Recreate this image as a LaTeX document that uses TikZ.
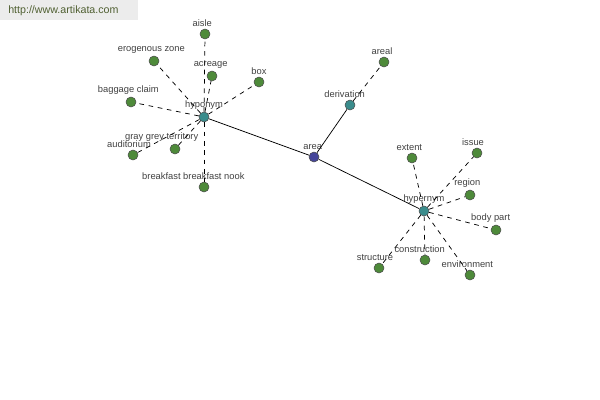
\documentclass[tikz,border=0pt]{standalone}
\usepackage{fontspec}
\setmainfont{Liberation Sans}
\usepackage{tikz}

\definecolor{leafgreen}{RGB}{78,138,58}
\definecolor{relteal}{RGB}{58,140,140}
\definecolor{rootblue}{RGB}{70,70,154}
\definecolor{labelgray}{RGB}{64,64,64}
\definecolor{markgray}{RGB}{236,236,236}
\definecolor{markolive}{RGB}{80,96,50}

\tikzset{
	word/.style={circle,draw=black!70,line width=0.4pt,minimum size=7.5pt,inner sep=0pt},
	leaf/.style={word,fill=leafgreen},
	rel/.style={word,fill=relteal},
	root/.style={word,fill=rootblue},
	every label/.style={text=labelgray,font=\fontsize{7}{8}\selectfont,inner sep=0.5pt},
	link/.style={draw=black,line width=0.55pt},
	sub/.style={draw=black,line width=0.55pt,dash pattern=on 3.5pt off 3.5pt}
}

\begin{document}
\begin{tikzpicture}[x=0.75pt,y=-0.75pt]
	\useasboundingbox (0,0) rectangle (600,400);
	\fill[markgray] (0,0) rectangle (138,20);
	\node[anchor=west,text=markolive,font=\fontsize{8}{9}\selectfont,inner sep=0pt] (mark) at (8,11) {http://www.artikata.com};

	\node[root,label={[label distance=1pt,xshift=-1pt]above:area}] (area) at (314,157) {};
	\node[rel,label={[label distance=1pt]above:hyponym}] (hypo) at (204,117) {};
	\node[rel,label={[label distance=1pt,xshift=-4pt]above:derivation}] (deriv) at (350,105) {};
	\node[rel,label={[label distance=1pt]above:hypernym}] (hyper) at (424,211) {};

	\node[leaf,label={[label distance=1pt,xshift=-2pt]above:aisle}] (aisle) at (205,34) {};
	\node[leaf,label={[label distance=1pt,xshift=-2pt]above:erogenous zone}] (erog) at (154,61) {};
	\node[leaf,label={[label distance=1pt,xshift=-1pt]above:acreage}] (acre) at (212,76) {};
	\node[leaf,label={[label distance=1pt]above:box}] (box) at (259,82) {};
	\node[leaf,label={[label distance=1pt,xshift=-2pt]above:baggage claim}] (bagg) at (131,102) {};
	\node[leaf,label={[label distance=1pt,xshift=-3pt]above:auditorium}] (audi) at (133,155) {};
	\node[leaf,label={[label distance=1pt,xshift=-10pt]above:gray grey territory}] (gray) at (175,149) {};
	\node[leaf,label={[label distance=1pt,xshift=-8pt]above:breakfast breakfast nook}] (break) at (204,187) {};

	\node[leaf,label={[label distance=1pt,xshift=-1.5pt]above:areal}] (areal) at (384,62) {};

	\node[leaf,label={[label distance=1pt,xshift=-2pt]above:extent}] (extent) at (412,158) {};
	\node[leaf,label={[label distance=1pt,xshift=-3pt]above:issue}] (issue) at (477,153) {};
	\node[leaf,label={[label distance=1pt,xshift=-2pt]above:region}] (region) at (470,195) {};
	\node[leaf,label={[label distance=1pt,xshift=-4pt]above:body part}] (body) at (496,230) {};
	\node[leaf,label={[label distance=1pt,xshift=-4pt]above:construction}] (constr) at (425,260) {};
	\node[leaf,label={[label distance=1pt,xshift=-3pt]above:structure}] (struct) at (379,268) {};
	\node[leaf,label={[label distance=1pt,xshift=-2pt]above:environment}] (envir) at (470,275) {};

	\path[link]
	(area) edge (hypo)
	(area) edge (deriv)
	(area) edge (hyper);
	\foreach \w in {aisle,erog,acre,box,bagg,audi,gray,break}
		\path[sub] (hypo) edge (\w);
	\path[sub] (deriv) edge (areal);
	\foreach \w in {extent,issue,region,body,constr,struct,envir}
		\path[sub] (hyper) edge (\w);
\end{tikzpicture}
\end{document}
